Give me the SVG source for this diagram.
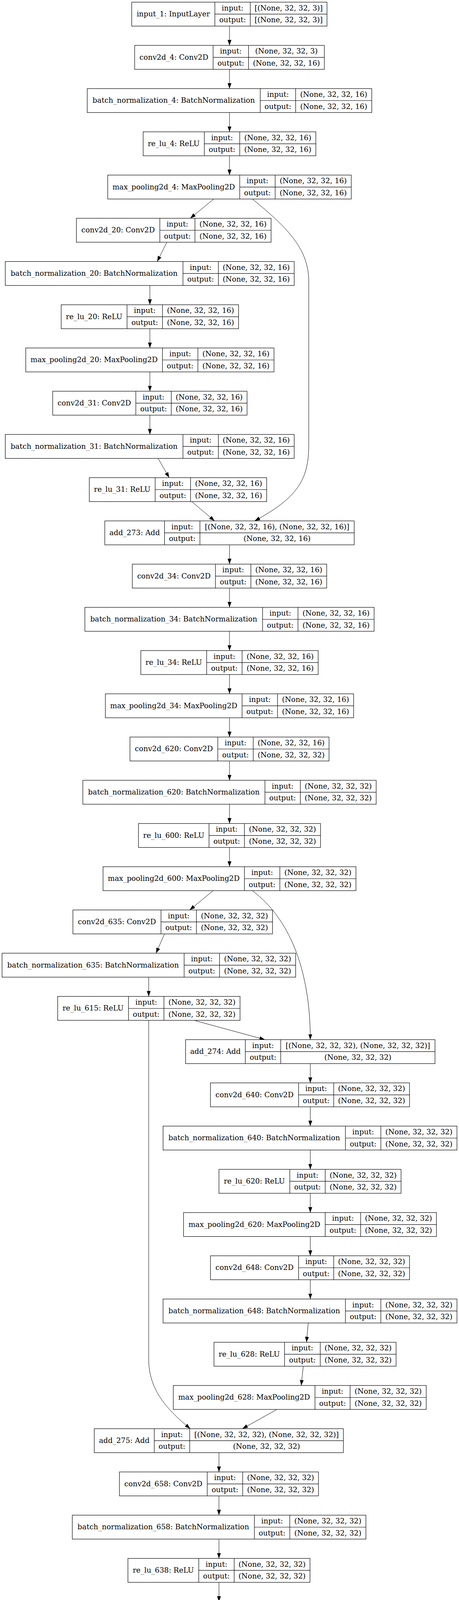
<svg xmlns="http://www.w3.org/2000/svg" width="1176" height="5717" viewBox="0 0 1176 5717">
<style>
.n rect{fill:#fff;stroke:#000;stroke-width:1.2}
.n path{fill:none;stroke:#000;stroke-width:1.2}
text{font-family:"DejaVu Serif","Liberation Serif",serif;font-size:18.67px;text-anchor:middle;fill:#000}
.e path{fill:none;stroke:#000;stroke-width:1;marker-end:url(#arr)}
</style>
<defs>
<marker id="arr" markerUnits="userSpaceOnUse" markerWidth="14" markerHeight="10" refX="13.3" refY="4.7" orient="auto" viewBox="0 0 13.3 9.4"><path d="M0,0 L13.3,4.7 L0,9.4 z" fill="#000"/></marker>
</defs>
<rect width="1176" height="5717" fill="#fff"/>
<g id="edges" class="e">
<path d="M588,66.8V116.2"/>
<path d="M588,177.5V226.8"/>
<path d="M588,288.1V337.5"/>
<path d="M588,398.8V448.2"/>
<path d="M547.5,509.5L487.5,558.8"/>
<path d="M646.5,509.5C740,585 791,640 791,720L791,1140C791,1230 760,1275 652.5,1333.5"/>
<path d="M427.5,620.1L402.75,669.5"/>
<path d="M384,730.8V780.2"/>
<path d="M384,841.5V890.8"/>
<path d="M384,952.1V1001.5"/>
<path d="M384,1062.8V1112.2"/>
<path d="M405,1173.5L433.5,1222.8"/>
<path d="M491.25,1284.1L549.75,1333.5"/>
<path d="M588,1394.8V1444.2"/>
<path d="M588,1505.5V1554.8"/>
<path d="M588,1616.1V1665.5"/>
<path d="M588,1726.8V1776.2"/>
<path d="M588,1837.5V1886.8"/>
<path d="M588,1948.1V1997.5"/>
<path d="M588,2058.8V2108.2"/>
<path d="M588,2169.5V2218.8"/>
<path d="M546,2280.1L486,2329.5"/>
<path d="M646.5,2280.1C740,2350 795,2480 795,2661.5"/>
<path d="M421.5,2390.8L399.75,2440.2"/>
<path d="M381,2501.5V2550.8"/>
<path d="M497.25,2612.1L678.75,2661.5"/>
<path d="M381,2612.1L381,3480C381,3560 430,3610 487.5,3657.5"/>
<path d="M795,2722.8V2772.2"/>
<path d="M795,2833.5V2882.8"/>
<path d="M795,2944.1V2993.5"/>
<path d="M795,3054.8V3104.2"/>
<path d="M795,3165.5V3214.8"/>
<path d="M795,3276.1V3325.5"/>
<path d="M789.75,3386.8L785.25,3436.2"/>
<path d="M777,3497.5L771.75,3546.8"/>
<path d="M709.5,3608.1L621,3657.5"/>
<path d="M561,3718.8V3768.2"/>
<path d="M561,3829.5V3878.8"/>
<path d="M561,3940.1V3989.5"/>
<path d="M561,4050.8V4100.2"/>
<path d="M561,4161.5V4210.8"/>
<path d="M561,4272.1V4321.5"/>
<path d="M561,4382.8V4432.2"/>
<path d="M561,4493.5V4542.8"/>
<path d="M561,4604.1V4653.5"/>
<path d="M561,4714.8V4764.2"/>
<path d="M561,4825.5V4874.8"/>
<path d="M561,4936.1V4985.5"/>
<path d="M561,5046.8V5096.2"/>
<path d="M561,5157.5V5206.8"/>
<path d="M561,5268.1V5317.5"/>
<path d="M561,5378.8V5428.2"/>
<path d="M561,5489.5V5538.8"/>
<path d="M561,5600.1V5649.5"/>
</g>

<g id="input_1" class="n"><rect x="337.5" y="5.5" width="500.25" height="61.3"/><path d="M550.5,5.5V66.8M641.25,5.5V66.8M550.5,36.2H837.75"/><text x="444" y="42">input_1: InputLayer</text><text x="595.9" y="26.7">input:</text><text x="595.9" y="57.4">output:</text><text x="739.5" y="26.7">[(None, 32, 32, 3)]</text><text x="739.5" y="57.4">[(None, 32, 32, 3)]</text></g>

<g id="conv2d_4" class="n"><rect x="345" y="116.2" width="486" height="61.3"/><path d="M546,116.2V177.5M636.75,116.2V177.5M546,146.9H831"/><text x="445.5" y="152.7">conv2d_4: Conv2D</text><text x="591.4" y="137.4">input:</text><text x="591.4" y="168.1">output:</text><text x="733.9" y="137.4">(None, 32, 32, 3)</text><text x="733.9" y="168.1">(None, 32, 32, 16)</text></g>

<g id="batch_normalization_4" class="n"><rect x="223.5" y="226.8" width="729" height="61.3"/><path d="M666.75,226.8V288.1M757.5,226.8V288.1M666.75,257.5H952.5"/><text x="445.1" y="263.3">batch_normalization_4: BatchNormalization</text><text x="712.1" y="248">input:</text><text x="712.1" y="278.7">output:</text><text x="855" y="248">(None, 32, 32, 16)</text><text x="855" y="278.7">(None, 32, 32, 16)</text></g>

<g id="re_lu_4" class="n"><rect x="366.75" y="337.5" width="442.5" height="61.3"/><path d="M523.5,337.5V398.8M614.25,337.5V398.8M523.5,368.2H809.25"/><text x="445.1" y="374">re_lu_4: ReLU</text><text x="568.9" y="358.7">input:</text><text x="568.9" y="389.4">output:</text><text x="711.75" y="358.7">(None, 32, 32, 16)</text><text x="711.75" y="389.4">(None, 32, 32, 16)</text></g>

<g id="max_pooling2d_4" class="n"><rect x="276" y="448.2" width="624" height="61.3"/><path d="M614.25,448.2V509.5M705,448.2V509.5M614.25,478.9H900"/><text x="445.1" y="484.7">max_pooling2d_4: MaxPooling2D</text><text x="659.6" y="469.4">input:</text><text x="659.6" y="500.1">output:</text><text x="802.5" y="469.4">(None, 32, 32, 16)</text><text x="802.5" y="500.1">(None, 32, 32, 16)</text></g>

<g id="conv2d_20" class="n"><rect x="195.75" y="558.8" width="498.75" height="61.3"/><path d="M409.5,558.8V620.1M499.5,558.8V620.1M409.5,589.5H694.5"/><text x="302.6" y="595.3">conv2d_20: Conv2D</text><text x="454.5" y="580">input:</text><text x="454.5" y="610.7">output:</text><text x="597" y="580">(None, 32, 32, 16)</text><text x="597" y="610.7">(None, 32, 32, 16)</text></g>

<g id="batch_normalization_20" class="n"><rect x="13.5" y="669.5" width="740.25" height="61.3"/><path d="M468.75,669.5V730.8M559.5,669.5V730.8M468.75,700.2H753.75"/><text x="241.1" y="706">batch_normalization_20: BatchNormalization</text><text x="514.1" y="690.7">input:</text><text x="514.1" y="721.4">output:</text><text x="656.6" y="690.7">(None, 32, 32, 16)</text><text x="656.6" y="721.4">(None, 32, 32, 16)</text></g>

<g id="re_lu_20" class="n"><rect x="156.75" y="780.2" width="454.5" height="61.3"/><path d="M325.5,780.2V841.5M416.25,780.2V841.5M325.5,810.9H611.25"/><text x="241.1" y="816.7">re_lu_20: ReLU</text><text x="370.9" y="801.4">input:</text><text x="370.9" y="832.1">output:</text><text x="513.75" y="801.4">(None, 32, 32, 16)</text><text x="513.75" y="832.1">(None, 32, 32, 16)</text></g>

<g id="max_pooling2d_20" class="n"><rect x="66" y="890.8" width="636" height="61.3"/><path d="M416.25,890.8V952.1M507,890.8V952.1M416.25,921.5H702"/><text x="241.1" y="927.3">max_pooling2d_20: MaxPooling2D</text><text x="461.6" y="912">input:</text><text x="461.6" y="942.7">output:</text><text x="604.5" y="912">(None, 32, 32, 16)</text><text x="604.5" y="942.7">(None, 32, 32, 16)</text></g>

<g id="conv2d_31" class="n"><rect x="135" y="1001.5" width="498" height="61.3"/><path d="M348,1001.5V1062.8M438.75,1001.5V1062.8M348,1032.2H633"/><text x="241.5" y="1038">conv2d_31: Conv2D</text><text x="393.4" y="1022.7">input:</text><text x="393.4" y="1053.4">output:</text><text x="535.9" y="1022.7">(None, 32, 32, 16)</text><text x="535.9" y="1053.4">(None, 32, 32, 16)</text></g>

<g id="batch_normalization_31" class="n"><rect x="13.5" y="1112.2" width="740.25" height="61.3"/><path d="M468.75,1112.2V1173.5M559.5,1112.2V1173.5M468.75,1142.9H753.75"/><text x="241.1" y="1148.7">batch_normalization_31: BatchNormalization</text><text x="514.1" y="1133.4">input:</text><text x="514.1" y="1164.1">output:</text><text x="656.6" y="1133.4">(None, 32, 32, 16)</text><text x="656.6" y="1164.1">(None, 32, 32, 16)</text></g>

<g id="re_lu_31" class="n"><rect x="228.75" y="1222.8" width="454.5" height="61.3"/><path d="M397.5,1222.8V1284.1M488.25,1222.8V1284.1M397.5,1253.5H683.25"/><text x="313.1" y="1259.3">re_lu_31: ReLU</text><text x="442.9" y="1244">input:</text><text x="442.9" y="1274.7">output:</text><text x="585.75" y="1244">(None, 32, 32, 16)</text><text x="585.75" y="1274.7">(None, 32, 32, 16)</text></g>

<g id="add_273" class="n"><rect x="268.5" y="1333.5" width="639" height="61.3"/><path d="M421.5,1333.5V1394.8M512.25,1333.5V1394.8M421.5,1364.2H907.5"/><text x="345" y="1370">add_273: Add</text><text x="466.9" y="1354.7">input:</text><text x="466.9" y="1385.4">output:</text><text x="709.9" y="1354.7">[(None, 32, 32, 16), (None, 32, 32, 16)]</text><text x="709.9" y="1385.4">(None, 32, 32, 16)</text></g>

<g id="conv2d_34" class="n"><rect x="339" y="1444.2" width="498" height="61.3"/><path d="M552,1444.2V1505.5M642.75,1444.2V1505.5M552,1474.9H837"/><text x="445.5" y="1480.7">conv2d_34: Conv2D</text><text x="597.4" y="1465.4">input:</text><text x="597.4" y="1496.1">output:</text><text x="739.9" y="1465.4">(None, 32, 32, 16)</text><text x="739.9" y="1496.1">(None, 32, 32, 16)</text></g>

<g id="batch_normalization_34" class="n"><rect x="217.5" y="1554.8" width="741" height="61.3"/><path d="M672.75,1554.8V1616.1M763.5,1554.8V1616.1M672.75,1585.5H958.5"/><text x="445.1" y="1591.3">batch_normalization_34: BatchNormalization</text><text x="718.1" y="1576">input:</text><text x="718.1" y="1606.7">output:</text><text x="861" y="1576">(None, 32, 32, 16)</text><text x="861" y="1606.7">(None, 32, 32, 16)</text></g>

<g id="re_lu_34" class="n"><rect x="360.75" y="1665.5" width="454.5" height="61.3"/><path d="M529.5,1665.5V1726.8M620.25,1665.5V1726.8M529.5,1696.2H815.25"/><text x="445.1" y="1702">re_lu_34: ReLU</text><text x="574.9" y="1686.7">input:</text><text x="574.9" y="1717.4">output:</text><text x="717.75" y="1686.7">(None, 32, 32, 16)</text><text x="717.75" y="1717.4">(None, 32, 32, 16)</text></g>

<g id="max_pooling2d_34" class="n"><rect x="270" y="1776.2" width="636" height="61.3"/><path d="M620.25,1776.2V1837.5M711,1776.2V1837.5M620.25,1806.9H906"/><text x="445.1" y="1812.7">max_pooling2d_34: MaxPooling2D</text><text x="665.6" y="1797.4">input:</text><text x="665.6" y="1828.1">output:</text><text x="808.5" y="1797.4">(None, 32, 32, 16)</text><text x="808.5" y="1828.1">(None, 32, 32, 16)</text></g>

<g id="conv2d_620" class="n"><rect x="333" y="1886.8" width="510" height="61.3"/><path d="M558,1886.8V1948.1M648.75,1886.8V1948.1M558,1917.5H843"/><text x="445.5" y="1923.3">conv2d_620: Conv2D</text><text x="603.4" y="1908">input:</text><text x="603.4" y="1938.7">output:</text><text x="745.9" y="1908">(None, 32, 32, 16)</text><text x="745.9" y="1938.7">(None, 32, 32, 32)</text></g>

<g id="batch_normalization_620" class="n"><rect x="212.25" y="1997.5" width="751.5" height="61.3"/><path d="M678.75,1997.5V2058.8M769.5,1997.5V2058.8M678.75,2028.2H963.75"/><text x="445.5" y="2034">batch_normalization_620: BatchNormalization</text><text x="724.1" y="2018.7">input:</text><text x="724.1" y="2049.4">output:</text><text x="866.6" y="2018.7">(None, 32, 32, 32)</text><text x="866.6" y="2049.4">(None, 32, 32, 32)</text></g>

<g id="re_lu_600" class="n"><rect x="354.75" y="2108.2" width="466.5" height="61.3"/><path d="M535.5,2108.2V2169.5M626.25,2108.2V2169.5M535.5,2138.9H821.25"/><text x="445.1" y="2144.7">re_lu_600: ReLU</text><text x="580.9" y="2129.4">input:</text><text x="580.9" y="2160.1">output:</text><text x="723.75" y="2129.4">(None, 32, 32, 32)</text><text x="723.75" y="2160.1">(None, 32, 32, 32)</text></g>

<g id="max_pooling2d_600" class="n"><rect x="264" y="2218.8" width="648" height="61.3"/><path d="M626.25,2218.8V2280.1M717,2218.8V2280.1M626.25,2249.5H912"/><text x="445.1" y="2255.3">max_pooling2d_600: MaxPooling2D</text><text x="671.6" y="2240">input:</text><text x="671.6" y="2270.7">output:</text><text x="814.5" y="2240">(None, 32, 32, 32)</text><text x="814.5" y="2270.7">(None, 32, 32, 32)</text></g>

<g id="conv2d_635" class="n"><rect x="186.75" y="2329.5" width="511.5" height="61.3"/><path d="M412.5,2329.5V2390.8M503.25,2329.5V2390.8M412.5,2360.2H698.25"/><text x="299.6" y="2366">conv2d_635: Conv2D</text><text x="457.9" y="2350.7">input:</text><text x="457.9" y="2381.4">output:</text><text x="600.75" y="2350.7">(None, 32, 32, 32)</text><text x="600.75" y="2381.4">(None, 32, 32, 32)</text></g>

<g id="batch_normalization_635" class="n"><rect x="5.25" y="2440.2" width="752.25" height="61.3"/><path d="M471.75,2440.2V2501.5M562.5,2440.2V2501.5M471.75,2470.9H757.5"/><text x="238.5" y="2476.7">batch_normalization_635: BatchNormalization</text><text x="517.1" y="2461.4">input:</text><text x="517.1" y="2492.1">output:</text><text x="660" y="2461.4">(None, 32, 32, 32)</text><text x="660" y="2492.1">(None, 32, 32, 32)</text></g>

<g id="re_lu_615" class="n"><rect x="147.75" y="2550.8" width="467.25" height="61.3"/><path d="M329.25,2550.8V2612.1M420,2550.8V2612.1M329.25,2581.5H615"/><text x="238.5" y="2587.3">re_lu_615: ReLU</text><text x="374.6" y="2572">input:</text><text x="374.6" y="2602.7">output:</text><text x="517.5" y="2572">(None, 32, 32, 32)</text><text x="517.5" y="2602.7">(None, 32, 32, 32)</text></g>

<g id="add_274" class="n"><rect x="475.5" y="2661.5" width="639" height="61.3"/><path d="M628.5,2661.5V2722.8M719.25,2661.5V2722.8M628.5,2692.2H1114.5"/><text x="552" y="2698">add_274: Add</text><text x="673.9" y="2682.7">input:</text><text x="673.9" y="2713.4">output:</text><text x="916.9" y="2682.7">[(None, 32, 32, 32), (None, 32, 32, 32)]</text><text x="916.9" y="2713.4">(None, 32, 32, 32)</text></g>

<g id="conv2d_640" class="n"><rect x="539.25" y="2772.2" width="510" height="61.3"/><path d="M765,2772.2V2833.5M855,2772.2V2833.5M765,2802.9H1049.25"/><text x="652.1" y="2808.7">conv2d_640: Conv2D</text><text x="810" y="2793.4">input:</text><text x="810" y="2824.1">output:</text><text x="952.1" y="2793.4">(None, 32, 32, 32)</text><text x="952.1" y="2824.1">(None, 32, 32, 32)</text></g>

<g id="batch_normalization_640" class="n"><rect x="417.75" y="2882.8" width="753" height="61.3"/><path d="M885,2882.8V2944.1M975.75,2882.8V2944.1M885,2913.5H1170.75"/><text x="651.4" y="2919.3">batch_normalization_640: BatchNormalization</text><text x="930.4" y="2904">input:</text><text x="930.4" y="2934.7">output:</text><text x="1073.25" y="2904">(None, 32, 32, 32)</text><text x="1073.25" y="2934.7">(None, 32, 32, 32)</text></g>

<g id="re_lu_620" class="n"><rect x="561" y="2993.5" width="466.5" height="61.3"/><path d="M742.5,2993.5V3054.8M833.25,2993.5V3054.8M742.5,3024.2H1027.5"/><text x="651.75" y="3030">re_lu_620: ReLU</text><text x="787.9" y="3014.7">input:</text><text x="787.9" y="3045.4">output:</text><text x="930.4" y="3014.7">(None, 32, 32, 32)</text><text x="930.4" y="3045.4">(None, 32, 32, 32)</text></g>

<g id="max_pooling2d_620" class="n"><rect x="470.25" y="3104.2" width="648" height="61.3"/><path d="M833.25,3104.2V3165.5M924,3104.2V3165.5M833.25,3134.9H1118.25"/><text x="651.75" y="3140.7">max_pooling2d_620: MaxPooling2D</text><text x="878.6" y="3125.4">input:</text><text x="878.6" y="3156.1">output:</text><text x="1021.1" y="3125.4">(None, 32, 32, 32)</text><text x="1021.1" y="3156.1">(None, 32, 32, 32)</text></g>

<g id="conv2d_648" class="n"><rect x="539.25" y="3214.8" width="510" height="61.3"/><path d="M765,3214.8V3276.1M855,3214.8V3276.1M765,3245.5H1049.25"/><text x="652.1" y="3251.3">conv2d_648: Conv2D</text><text x="810" y="3236">input:</text><text x="810" y="3266.7">output:</text><text x="952.1" y="3236">(None, 32, 32, 32)</text><text x="952.1" y="3266.7">(None, 32, 32, 32)</text></g>

<g id="batch_normalization_648" class="n"><rect x="417.75" y="3325.5" width="753" height="61.3"/><path d="M885,3325.5V3386.8M975.75,3325.5V3386.8M885,3356.2H1170.75"/><text x="651.4" y="3362">batch_normalization_648: BatchNormalization</text><text x="930.4" y="3346.7">input:</text><text x="930.4" y="3377.4">output:</text><text x="1073.25" y="3346.7">(None, 32, 32, 32)</text><text x="1073.25" y="3377.4">(None, 32, 32, 32)</text></g>

<g id="re_lu_628" class="n"><rect x="548.25" y="3436.2" width="466.5" height="61.3"/><path d="M729,3436.2V3497.5M820.5,3436.2V3497.5M729,3466.9H1014.75"/><text x="638.6" y="3472.7">re_lu_628: ReLU</text><text x="774.75" y="3457.4">input:</text><text x="774.75" y="3488.1">output:</text><text x="917.6" y="3457.4">(None, 32, 32, 32)</text><text x="917.6" y="3488.1">(None, 32, 32, 32)</text></g>

<g id="max_pooling2d_628" class="n"><rect x="444" y="3546.8" width="648" height="61.3"/><path d="M807,3546.8V3608.1M897,3546.8V3608.1M807,3577.5H1092"/><text x="625.5" y="3583.3">max_pooling2d_628: MaxPooling2D</text><text x="852" y="3568">input:</text><text x="852" y="3598.7">output:</text><text x="994.5" y="3568">(None, 32, 32, 32)</text><text x="994.5" y="3598.7">(None, 32, 32, 32)</text></g>

<g id="add_275" class="n"><rect x="241.5" y="3657.5" width="638.25" height="61.3"/><path d="M395.25,3657.5V3718.8M486,3657.5V3718.8M395.25,3688.2H879.75"/><text x="318.4" y="3694">add_275: Add</text><text x="440.6" y="3678.7">input:</text><text x="440.6" y="3709.4">output:</text><text x="682.9" y="3678.7">[(None, 32, 32, 32), (None, 32, 32, 32)]</text><text x="682.9" y="3709.4">(None, 32, 32, 32)</text></g>

<g id="conv2d_658" class="n"><rect x="306" y="3768.2" width="510" height="61.3"/><path d="M531,3768.2V3829.5M621.75,3768.2V3829.5M531,3798.9H816"/><text x="418.5" y="3804.7">conv2d_658: Conv2D</text><text x="576.4" y="3789.4">input:</text><text x="576.4" y="3820.1">output:</text><text x="718.9" y="3789.4">(None, 32, 32, 32)</text><text x="718.9" y="3820.1">(None, 32, 32, 32)</text></g>

<g id="batch_normalization_658" class="n"><rect x="185.25" y="3878.8" width="752.25" height="61.3"/><path d="M651.75,3878.8V3940.1M742.5,3878.8V3940.1M651.75,3909.5H937.5"/><text x="418.5" y="3915.3">batch_normalization_658: BatchNormalization</text><text x="697.1" y="3900">input:</text><text x="697.1" y="3930.7">output:</text><text x="840" y="3900">(None, 32, 32, 32)</text><text x="840" y="3930.7">(None, 32, 32, 32)</text></g>

<g id="re_lu_638" class="n"><rect x="327.75" y="3989.5" width="466.5" height="61.3"/><path d="M509.25,3989.5V4050.8M600,3989.5V4050.8M509.25,4020.2H794.25"/><text x="418.5" y="4026">re_lu_638: ReLU</text><text x="554.6" y="4010.7">input:</text><text x="554.6" y="4041.4">output:</text><text x="697.1" y="4010.7">(None, 32, 32, 32)</text><text x="697.1" y="4041.4">(None, 32, 32, 32)</text></g>

<g id="max_pooling2d_638" class="n"><rect x="237" y="4100.2" width="648" height="61.3"/><path d="M600,4100.2V4161.5M690.75,4100.2V4161.5M600,4130.9H885"/><text x="418.5" y="4136.7">max_pooling2d_638: MaxPooling2D</text><text x="645.4" y="4121.4">input:</text><text x="645.4" y="4152.1">output:</text><text x="787.9" y="4121.4">(None, 32, 32, 32)</text><text x="787.9" y="4152.1">(None, 32, 32, 32)</text></g>

<g id="conv2d_1140" class="n"><rect x="300" y="4210.8" width="522.75" height="61.3"/><path d="M537,4210.8V4272.1M627.75,4210.8V4272.1M537,4241.5H822.75"/><text x="418.5" y="4247.3">conv2d_1140: Conv2D</text><text x="582.4" y="4232">input:</text><text x="582.4" y="4262.7">output:</text><text x="725.25" y="4232">(None, 32, 32, 32)</text><text x="725.25" y="4262.7">(None, 32, 32, 64)</text></g>

<g id="batch_normalization_1140" class="n"><rect x="179.25" y="4321.5" width="764.25" height="61.3"/><path d="M657.75,4321.5V4382.8M748.5,4321.5V4382.8M657.75,4352.2H943.5"/><text x="418.5" y="4358">batch_normalization_1140: BatchNormalization</text><text x="703.1" y="4342.7">input:</text><text x="703.1" y="4373.4">output:</text><text x="846" y="4342.7">(None, 32, 32, 64)</text><text x="846" y="4373.4">(None, 32, 32, 64)</text></g>

<g id="re_lu_1081" class="n"><rect x="321.75" y="4432.2" width="478.5" height="61.3"/><path d="M515.25,4432.2V4493.5M606,4432.2V4493.5M515.25,4462.9H800.25"/><text x="418.5" y="4468.7">re_lu_1081: ReLU</text><text x="560.6" y="4453.4">input:</text><text x="560.6" y="4484.1">output:</text><text x="703.1" y="4453.4">(None, 32, 32, 64)</text><text x="703.1" y="4484.1">(None, 32, 32, 64)</text></g>

<g id="conv2d_1151" class="n"><rect x="300" y="4542.8" width="522.75" height="61.3"/><path d="M537,4542.8V4604.1M627.75,4542.8V4604.1M537,4573.5H822.75"/><text x="418.5" y="4579.3">conv2d_1151: Conv2D</text><text x="582.4" y="4564">input:</text><text x="582.4" y="4594.7">output:</text><text x="725.25" y="4564">(None, 32, 32, 64)</text><text x="725.25" y="4594.7">(None, 32, 32, 64)</text></g>

<g id="batch_normalization_1151" class="n"><rect x="179.25" y="4653.5" width="764.25" height="61.3"/><path d="M657.75,4653.5V4714.8M748.5,4653.5V4714.8M657.75,4684.2H943.5"/><text x="418.5" y="4690">batch_normalization_1151: BatchNormalization</text><text x="703.1" y="4674.7">input:</text><text x="703.1" y="4705.4">output:</text><text x="846" y="4674.7">(None, 32, 32, 64)</text><text x="846" y="4705.4">(None, 32, 32, 64)</text></g>

<g id="re_lu_1092" class="n"><rect x="321.75" y="4764.2" width="478.5" height="61.3"/><path d="M515.25,4764.2V4825.5M606,4764.2V4825.5M515.25,4794.9H800.25"/><text x="418.5" y="4800.7">re_lu_1092: ReLU</text><text x="560.6" y="4785.4">input:</text><text x="560.6" y="4816.1">output:</text><text x="703.1" y="4785.4">(None, 32, 32, 64)</text><text x="703.1" y="4816.1">(None, 32, 32, 64)</text></g>

<g id="max_pooling2d_1092" class="n"><rect x="231" y="4874.8" width="660" height="61.3"/><path d="M606,4874.8V4936.1M696.75,4874.8V4936.1M606,4905.5H891"/><text x="418.5" y="4911.3">max_pooling2d_1092: MaxPooling2D</text><text x="651.4" y="4896">input:</text><text x="651.4" y="4926.7">output:</text><text x="793.9" y="4896">(None, 32, 32, 64)</text><text x="793.9" y="4926.7">(None, 32, 32, 64)</text></g>

<g id="conv2d_1171" class="n"><rect x="300" y="4985.5" width="522.75" height="61.3"/><path d="M537,4985.5V5046.8M627.75,4985.5V5046.8M537,5016.2H822.75"/><text x="418.5" y="5022">conv2d_1171: Conv2D</text><text x="582.4" y="5006.7">input:</text><text x="582.4" y="5037.4">output:</text><text x="725.25" y="5006.7">(None, 32, 32, 64)</text><text x="725.25" y="5037.4">(None, 32, 32, 64)</text></g>

<g id="batch_normalization_1171" class="n"><rect x="179.25" y="5096.2" width="764.25" height="61.3"/><path d="M657.75,5096.2V5157.5M748.5,5096.2V5157.5M657.75,5126.9H943.5"/><text x="418.5" y="5132.7">batch_normalization_1171: BatchNormalization</text><text x="703.1" y="5117.4">input:</text><text x="703.1" y="5148.1">output:</text><text x="846" y="5117.4">(None, 32, 32, 64)</text><text x="846" y="5148.1">(None, 32, 32, 64)</text></g>

<g id="re_lu_1112" class="n"><rect x="321.75" y="5206.8" width="478.5" height="61.3"/><path d="M515.25,5206.8V5268.1M606,5206.8V5268.1M515.25,5237.5H800.25"/><text x="418.5" y="5243.3">re_lu_1112: ReLU</text><text x="560.6" y="5228">input:</text><text x="560.6" y="5258.7">output:</text><text x="703.1" y="5228">(None, 32, 32, 64)</text><text x="703.1" y="5258.7">(None, 32, 32, 64)</text></g>

<g id="max_pooling2d_1112" class="n"><rect x="231" y="5317.5" width="660" height="61.3"/><path d="M606,5317.5V5378.8M696.75,5317.5V5378.8M606,5348.2H891"/><text x="418.5" y="5354">max_pooling2d_1112: MaxPooling2D</text><text x="651.4" y="5338.7">input:</text><text x="651.4" y="5369.4">output:</text><text x="793.9" y="5338.7">(None, 32, 32, 64)</text><text x="793.9" y="5369.4">(None, 32, 32, 64)</text></g>

<g id="flatten_299" class="n"><rect x="312.75" y="5428.2" width="497.25" height="61.3"/><path d="M524.25,5428.2V5489.5M615,5428.2V5489.5M524.25,5458.9H810"/><text x="418.5" y="5464.7">flatten_299: Flatten</text><text x="569.6" y="5449.4">input:</text><text x="569.6" y="5480.1">output:</text><text x="712.5" y="5449.4">(None, 32, 32, 64)</text><text x="712.5" y="5480.1">(None, 65536)</text></g>

<g id="dense_598" class="n"><rect x="339.75" y="5538.8" width="443.25" height="61.3"/><path d="M534,5538.8V5600.1M624.75,5538.8V5600.1M534,5569.5H783"/><text x="436.9" y="5575.3">dense_598: Dense</text><text x="579.4" y="5560">input:</text><text x="579.4" y="5590.7">output:</text><text x="703.9" y="5560">(None, 65536)</text><text x="703.9" y="5590.7">(None, 256)</text></g>

<g id="dense_599" class="n"><rect x="351" y="5649.5" width="420" height="61.3"/><path d="M546,5649.5V5710.8M636.75,5649.5V5710.8M546,5680.2H771"/><text x="448.5" y="5686">dense_599: Dense</text><text x="591.4" y="5670.7">input:</text><text x="591.4" y="5701.4">output:</text><text x="703.9" y="5670.7">(None, 256)</text><text x="703.9" y="5701.4">(None, 10)</text></g>
</svg>
